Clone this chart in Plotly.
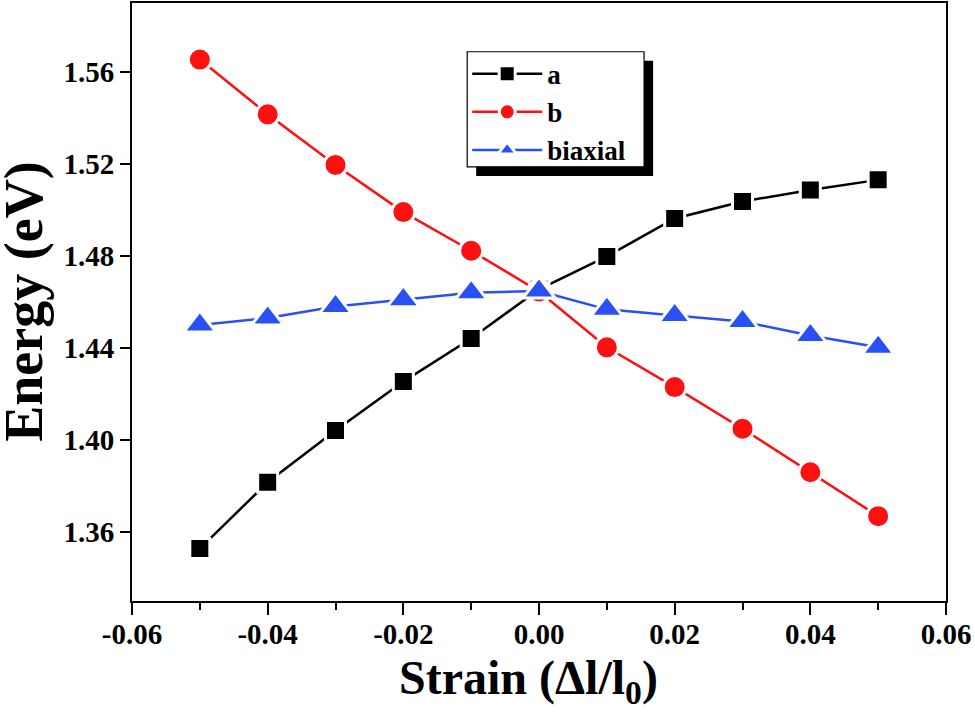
import plotly.graph_objects as go

strain = [-0.05, -0.04, -0.03, -0.02, -0.01, 0.00, 0.01, 0.02, 0.03, 0.04, 0.05]
energy_a = [1.3528, 1.3816, 1.4041, 1.4254, 1.4441, 1.4655, 1.4798, 1.4963, 1.5037, 1.5087, 1.5131]
energy_b = [1.5654, 1.5416, 1.5196, 1.4991, 1.4823, 1.4646, 1.4403, 1.4230, 1.4049, 1.3860, 1.3669]
energy_biaxial = [1.4500, 1.4530, 1.4580, 1.4610, 1.4640, 1.4648, 1.4568, 1.4541, 1.4515, 1.4454, 1.4403]

x_tickvals = [-0.06, -0.04, -0.02, 0.00, 0.02, 0.04, 0.06]
x_ticktext = ["-0.06", "-0.04", "-0.02", "0.00", "0.02", "0.04", "0.06"]
y_tickvals = [1.36, 1.40, 1.44, 1.48, 1.52, 1.56]
y_ticktext = ["1.36", "1.40", "1.44", "1.48", "1.52", "1.56"]

x_title = "Strain (Δl/l<sub>0</sub>)"
y_title = "Energy (eV)"

FONT = "Liberation Serif"
BLACK = "#000000"
RED = "#ff1010"
BLUE = "#2a4ff5"

fig = go.Figure()
fig.add_trace(go.Scatter(
    x=strain, y=energy_a, name="a", mode="lines+markers",
    line=dict(color=BLACK, width=2.5),
    marker=dict(symbol="square", size=20, color=BLACK, line=dict(color="white", width=3)),
))
fig.add_trace(go.Scatter(
    x=strain, y=energy_b, name="b", mode="lines+markers",
    line=dict(color=RED, width=2.5),
    marker=dict(symbol="circle", size=23, color=RED, line=dict(color="white", width=3)),
))
fig.add_trace(go.Scatter(
    x=strain, y=energy_biaxial, name="biaxial", mode="lines+markers",
    line=dict(color=BLUE, width=2.5),
    marker=dict(symbol="triangle-up", size=28, color=BLUE, line=dict(color="white", width=3)),
))

# legend frame with drop shadow
fig.add_shape(type="rect", xref="paper", yref="paper",
              x0=0.4228, x1=0.6402, y0=0.7109, y1=0.9034,
              fillcolor="black", line=dict(width=0), layer="above")
fig.add_shape(type="rect", xref="paper", yref="paper",
              x0=0.4118, x1=0.6291, y0=0.7260, y1=0.9185,
              fillcolor="white", line=dict(color="black", width=1.2), layer="above")

# axis titles
fig.add_annotation(text=x_title, xref="paper", yref="paper", x=0.487, y=-0.133,
                   xanchor="center", yanchor="middle", showarrow=False,
                   font=dict(family=FONT, size=48, color="black", weight="bold"))
fig.add_annotation(text=y_title, xref="paper", yref="paper", x=-0.133, y=0.5,
                   xanchor="center", yanchor="middle", textangle=-90, showarrow=False,
                   font=dict(family=FONT, size=54, color="black", weight="bold"))

fig.update_layout(
    width=975, height=713,
    margin=dict(l=132, r=29, t=3, b=112, autoexpand=False),
    paper_bgcolor="white", plot_bgcolor="white",
    font=dict(family=FONT, color="black"),
    showlegend=True,
    legend=dict(
        x=0.4118, y=0.922, xanchor="left", yanchor="top",
        bgcolor="rgba(0,0,0,0)", borderwidth=0,
        font=dict(family=FONT, size=27, color="black", weight="bold"),
        itemwidth=70, tracegroupgap=0,
    ),
    xaxis=dict(
        range=[-0.06, 0.06], tickmode="array", tickvals=x_tickvals, ticktext=x_ticktext,
        ticks="outside", ticklen=12, tickwidth=2, tickcolor="black",
        ticklabelstandoff=-6,
        minor=dict(tickmode="linear", tick0=-0.06, dtick=0.01, ticks="outside",
                   ticklen=7, tickwidth=2, tickcolor="black", showgrid=False),
        showline=True, linewidth=2, linecolor="black", mirror=True,
        showgrid=False, zeroline=False, automargin=False,
        tickfont=dict(family=FONT, size=29, color="black", weight="bold"),
    ),
    yaxis=dict(
        range=[1.33, 1.59], tickmode="array", tickvals=y_tickvals, ticktext=y_ticktext,
        ticks="outside", ticklen=10, tickwidth=2, tickcolor="black",
        showline=True, linewidth=2, linecolor="black", mirror=True,
        showgrid=False, zeroline=False, automargin=False,
        tickfont=dict(family=FONT, size=29, color="black", weight="bold"),
    ),
)

fig.write_html("out.html", config={"displayModeBar": False},
               post_script="document.body.style.margin='0px';")
